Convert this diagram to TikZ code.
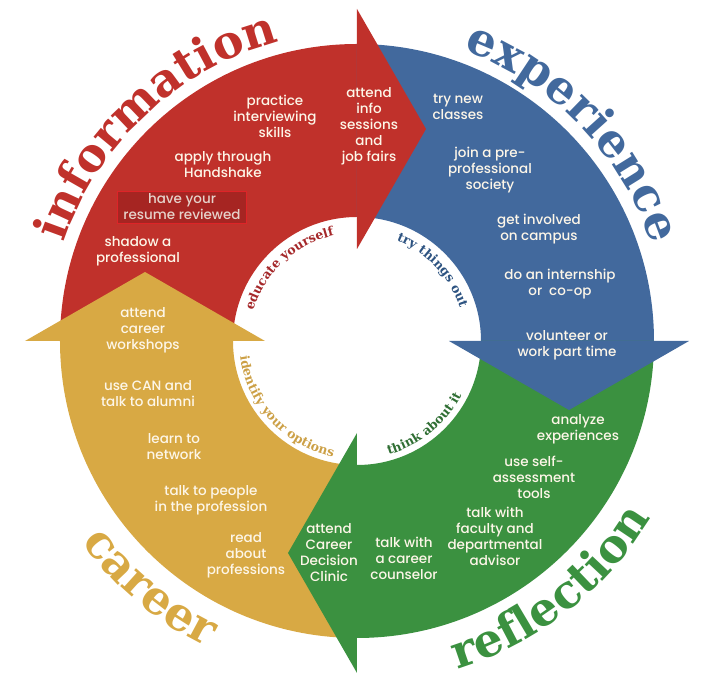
\documentclass[tikz,border=0pt]{standalone}
\usepackage{fontspec}
\usepackage{tikz}
\usetikzlibrary{decorations.text}
\newfontfamily\wordfont{DejaVu Serif}
\newfontfamily\itemfont{Poppins Medium}
\newcommand\bigserif{\wordfont\bfseries\fontsize{46}{55}\selectfont}
\newcommand\smallserif{\wordfont\bfseries\fontsize{12.5}{15}\selectfont}
\definecolor{infored}{RGB}{192, 49, 43}
\definecolor{expblue}{RGB}{66, 105, 157}
\definecolor{reflgreen}{RGB}{59, 145, 64}
\definecolor{careergold}{RGB}{216, 169, 68}
\definecolor{cream}{RGB}{253, 246, 232}
\definecolor{boxred}{RGB}{166, 37, 34}
\definecolor{boxedge}{RGB}{222, 36, 40}
\definecolor{boxtext}{RGB}{230, 210, 202}
\definecolor{mottored}{RGB}{165, 40, 42}
\definecolor{mottoblue}{RGB}{45, 83, 129}
\definecolor{mottogreen}{RGB}{47, 110, 51}
\definecolor{mottogold}{RGB}{204, 160, 70}
\tikzset{action/.style = {text = cream, align = center, inner sep = 0, font = \itemfont\fontsize{13.5}{16}\selectfont}}
\tikzset{curved/.style = {decorate, decoration = {text along path, text align = center, text color = #1}}}

\begin{document}
\begin{tikzpicture}[x = 1pt, y = 1pt]
      \useasboundingbox (-357, -343) rectangle (345, 341);

      \foreach \a/\col in {90/infored, 0/expblue, -90/reflgreen, 180/careergold} {
        \fill [\col] (\a:297pt) arc [start angle = \a, end angle = \a+90, radius = 297pt]
          -- (\a+90:124pt) arc [start angle = \a+90, end angle = \a, radius = 124pt] -- cycle;
      }
      \foreach \a/\col in {90/infored, 0/expblue, -90/reflgreen, 180/careergold} {
        \fill [\col, rotate = \a-90] (0, 332) -- (69, 212) -- (0, 92) -- cycle;
      }

      \path [curved = infored, decoration = {text = {|\bigserif|information}}]
        (185:309pt) arc [start angle = 185, end angle = 81, radius = 309pt];
      \path [curved = expblue, decoration = {text = {|\bigserif|experience}}]
        (96:310pt) arc [start angle = 96, end angle = -8, radius = 310pt];
      \path [curved = reflgreen, decoration = {text = {|\bigserif|reflection}}]
        (-100:343pt) arc [start angle = -100, end angle = -4, radius = 343pt];
      \path [curved = careergold, decoration = {text = {|\bigserif|career}}]
        (190:341pt) arc [start angle = 190, end angle = 270, radius = 341pt];

      \path [curved = mottored, decoration = {text = {|\smallserif|educate yourself}}]
        (180:108pt) arc [start angle = 180, end angle = 86, radius = 108pt];
      \path [curved = mottoblue, decoration = {text = {|\smallserif|try things out}}]
        (90:108pt) arc [start angle = 90, end angle = -4, radius = 108pt];
      \path [curved = mottogreen, decoration = {text = {|\smallserif|think about it}}]
        (-100:118pt) arc [start angle = -100, end angle = -2, radius = 118pt];
      \path [curved = mottogold, decoration = {text = {|\smallserif|identify your options}}]
        (170:118pt) arc [start angle = 170, end angle = 276, radius = 118pt];

      \node (practice) [action] at (-82, 225) {practice\\interviewing\\skills};
      \node (apply) [action] at (-134, 176) {apply through\\Handshake};
      \node (resume) [action, fill = boxred, draw = boxedge, text = boxtext, minimum width = 129pt, minimum height = 32pt] at (-175, 134) {have your\\resume reviewed};
      \node (shadow) [action] at (-219, 90) {shadow a\\professional};
      \node (infosessions) [action] at (12, 215) {attend\\info\\sessions\\and\\job fairs};

      \node (classes) [action] at (101, 234) {try new\\classes};
      \node (society) [action] at (133, 171) {join a pre-\\professional\\society};
      \node (campus) [action] at (182, 112) {get involved\\on campus};
      \node (internship) [action] at (203, 57) {do an internship\\or\ \ co-op};
      \node (volunteer) [action] at (210, -4) {volunteer or\\work part time};

      \node (analyze) [action] at (221, -88) {analyze\\experiences};
      \node (assess) [action] at (177, -136) {use self-\\assessment\\tools};
      \node (faculty) [action] at (138, -195) {talk with\\faculty and\\departmental\\advisor};
      \node (counselor) [action] at (47, -217) {talk with\\a career\\counselor};
      \node (clinic) [action] at (-28, -212) {attend\\Career\\Decision\\Clinic};

      \node (workshops) [action] at (-214, 11) {attend\\career\\workshops};
      \node (alumni) [action] at (-209, -53) {use CAN and\\talk to alumni};
      \node (network) [action] at (-183, -106) {learn to\\network};
      \node (people) [action] at (-146, -159) {talk to people\\in the profession};
      \node (professions) [action] at (-111, -214) {read\\about\\professions};
    \end{tikzpicture}
\end{document}
